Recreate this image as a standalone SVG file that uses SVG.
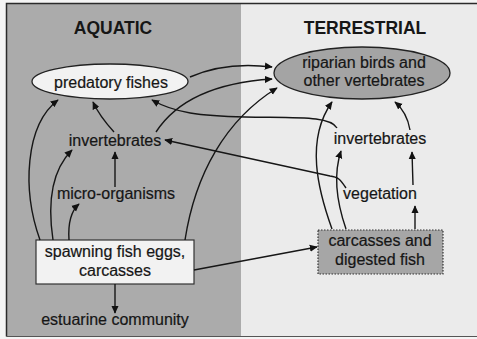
<svg xmlns="http://www.w3.org/2000/svg" width="477" height="339" viewBox="0 0 477 339">
<defs>
<marker id="ah" viewBox="0 0 10 10" refX="9" refY="5" markerWidth="8" markerHeight="8" markerUnits="userSpaceOnUse" orient="auto">
<path d="M0,0.5 L10,5 L0,9.5 Z" fill="#111"/>
</marker>
<style>
.t{font-family:"Liberation Sans",Arial,sans-serif;font-size:16px;fill:#161616;stroke:#161616;stroke-width:0.2;text-anchor:middle}
.h{font-family:"Liberation Sans",Arial,sans-serif;font-size:17.5px;font-weight:bold;fill:#161616;text-anchor:middle}
.c{fill:none;stroke:#161616;stroke-width:1.4;marker-end:url(#ah)}
</style>
</defs>
<rect x="0" y="0" width="477" height="339" fill="#f4f4f4"/>
<rect x="241" y="3.5" width="236" height="333" fill="#ebebeb"/>
<rect x="6.5" y="3.5" width="234.5" height="333" fill="#ababab"/>
<path d="M6.5,336.5 L6.5,3.5 L477,3.5" fill="none" stroke="#2a2a2a" stroke-width="1.5"/>
<line x1="6.5" y1="336.5" x2="477" y2="336.5" stroke="#555" stroke-width="1"/>
<text class="h" x="113" y="34">AQUATIC</text>
<text class="h" x="365" y="34">TERRESTRIAL</text>
<g id="predatory-fishes">
<ellipse cx="110" cy="81.5" rx="78" ry="17.5" fill="#f2f2f2" stroke="#222" stroke-width="1.3"/>
<text class="t" x="111" y="87.5">predatory fishes</text>
</g>
<g id="riparian">
<ellipse cx="362" cy="73" rx="88" ry="26" fill="#a4a4a4" stroke="#222" stroke-width="1.3"/>
<text class="t" x="364" y="68">riparian birds and</text>
<text class="t" x="364" y="86">other vertebrates</text>
</g>
<g id="invertebrates-aquatic">
<text class="t" x="115" y="146">invertebrates</text>
</g>
<g id="micro-organisms">
<text class="t" x="116" y="199">micro-organisms</text>
</g>
<g id="spawning">
<rect x="36" y="240" width="158" height="44" fill="#f2f2f2" stroke="#333" stroke-width="1.2"/>
<text class="t" x="115" y="257">spawning fish eggs,</text>
<text class="t" x="115" y="276">carcasses</text>
</g>
<g id="estuarine">
<text class="t" x="115" y="325">estuarine community</text>
</g>
<g id="invertebrates-terrestrial">
<text class="t" x="380" y="144">invertebrates</text>
</g>
<g id="vegetation">
<text class="t" x="380" y="199">vegetation</text>
</g>
<g id="carcasses">
<rect x="318" y="230" width="125" height="44" fill="#a6a6a6" stroke="#333" stroke-width="1.2" stroke-dasharray="1.5,1.5"/>
<text class="t" x="380" y="246">carcasses and</text>
<text class="t" x="380" y="264.5">digested fish</text>
</g>
<g id="connectors">
<path class="c" d="M190,77 C215,66 240,63 272,67"/>
<path class="c" d="M156,132 C180,95 225,82 272,79"/>
<path class="c" d="M185,240 C195,175 225,120 277,88"/>
<path class="c" d="M337,128 C330,116 300,118 245,117 C200,116 175,113 152,100"/>
<path class="c" d="M346,188 C340,179 338,177 330,176 L165,140"/>
<path class="c" d="M194,270 L317,247"/>
<path class="c" d="M332,229 C318,190 305,140 332,102"/>
<path class="c" d="M346,229 C336,200 333,175 341,151"/>
<path class="c" d="M410,130 C408,118 402,108 395,102"/>
<path class="c" d="M413,185 L412,152"/>
<path class="c" d="M415,229 L415,206"/>
<path class="c" d="M40,240 C22,190 25,125 58,100"/>
<path class="c" d="M53,240 C47,200 52,170 72,150"/>
<path class="c" d="M69,240 C68,225 70,212 79,204"/>
<path class="c" d="M115,187 L115,152"/>
<path class="c" d="M114,132 C104,121 98,113 93,102"/>
<path class="c" d="M115,284 L115,313"/>
</g>
</svg>
